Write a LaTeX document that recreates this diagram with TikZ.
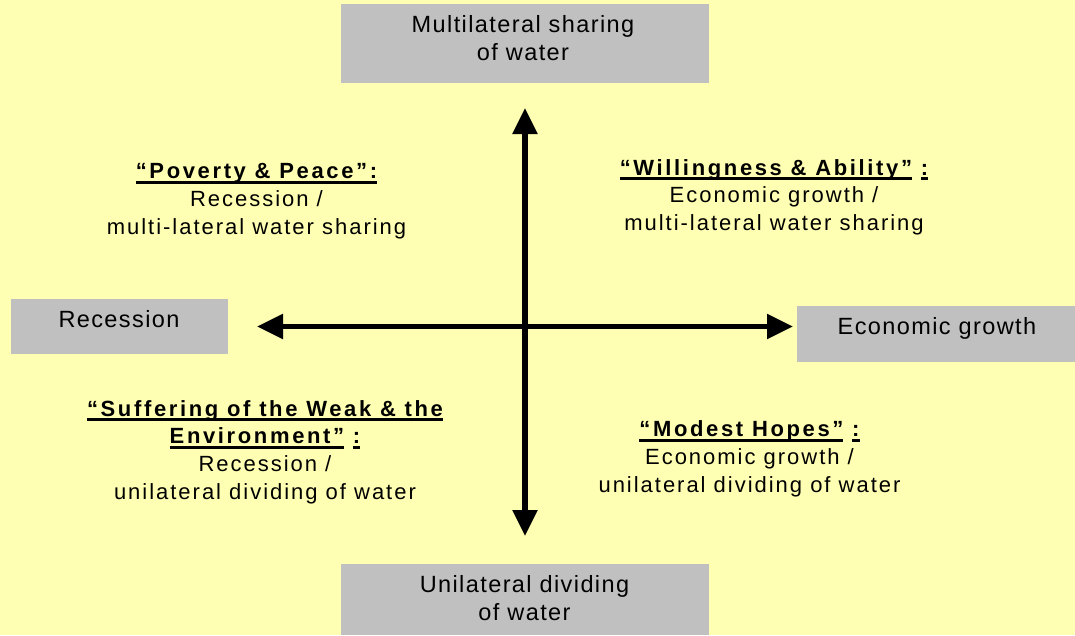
\documentclass[tikz,border=0pt]{standalone}
\usepackage{fontspec}
\setmainfont{Liberation Sans}[LetterSpace=9,BoldFeatures={LetterSpace=12}]
\newfontfamily\boxfont{Liberation Sans}[LetterSpace=6]
\usetikzlibrary{arrows.meta}
\definecolor{bgyellow}{RGB}{255,255,180}
\definecolor{boxgray}{RGB}{192,192,192}
\newsavebox\ulbox
\newcommand\ulin[1]{\sbox\ulbox{#1}\rlap{\rule[-5pt]{\wd\ulbox}{2.6pt}}\usebox\ulbox}
\newcommand\qs{\rule[-7.75pt]{0pt}{27.75pt}}
\newcommand\bs{\rule[-8pt]{0pt}{28pt}}
\begin{document}
\begin{tikzpicture}[x=1pt,y=-1pt,
  box/.style={fill=boxgray, draw=none, inner sep=0pt, outer sep=0pt},
  boxtext/.style={font=\boxfont\fontsize{23.5}{28}\selectfont, align=center, anchor=north, inner sep=0pt, outer sep=0pt},
  quad/.style={font=\fontsize{22}{27.75}\selectfont, align=center, anchor=north, inner sep=0pt, outer sep=0pt},
  axis/.style={line width=5.5pt, {Triangle[length=26pt,width=24pt]}-{Triangle[length=26pt,width=24pt]}}]
\fill[bgyellow] (0,0) rectangle (1075,635);
\useasboundingbox (0,0) rectangle (1075,635);

% grey boxes
\node[box, minimum width=368pt, minimum height=79pt] (topbox) at (524.5,43.5) {};
\node[box, minimum width=368pt, minimum height=71pt] (botbox) at (524.5,599.5) {};
\node[box, minimum width=217pt, minimum height=55pt] (leftbox) at (119.5,326.5) {};
\node[box, minimum width=278pt, minimum height=56pt] (rightbox) at (936,334) {};

% box labels
\node[boxtext] (toptxt) at (523,12.7) {\bs Multilateral sharing\\\bs of water};
\node[boxtext] (bottxt) at (524.5,572.7) {\bs Unilateral dividing\\\bs of water};
\node[boxtext] (lefttxt) at (119,307.7) {\bs Recession};
\node[boxtext] (righttxt) at (937,314.3) {\bs Economic growth};

% quadrant texts
\node[quad] (poverty) at (256.5,158.5)
  {\qs\textbf{\ulin{“Poverty \& Peace”:}}\\\qs Recession /\\\qs multi-lateral water sharing};
\node[quad] (willing) at (774,155)
  {\qs\textbf{\ulin{“Willingness \& Ability”} \ulin{:}}\\\qs Economic growth /\\\qs multi-lateral water sharing};
\node[quad] (suffer) at (265,396)
  {\qs\textbf{\ulin{“Suffering of the Weak \& the}}\\\qs\textbf{\ulin{Environment”} \ulin{:}}\\\qs Recession /\\\qs unilateral dividing of water};
\node[quad] (modest) at (749.5,416.5)
  {\qs\textbf{\ulin{“Modest Hopes”} \ulin{:}}\\\qs Economic growth /\\\qs unilateral dividing of water};

% axes
\coordinate (ntip) at (525,108);
\coordinate (stip) at (525,536);
\coordinate (wtip) at (257,326.5);
\coordinate (etip) at (793,326.5);
\draw[axis] (stip) -- (ntip);
\draw[axis] (wtip) -- (etip);
\end{tikzpicture}
\end{document}
